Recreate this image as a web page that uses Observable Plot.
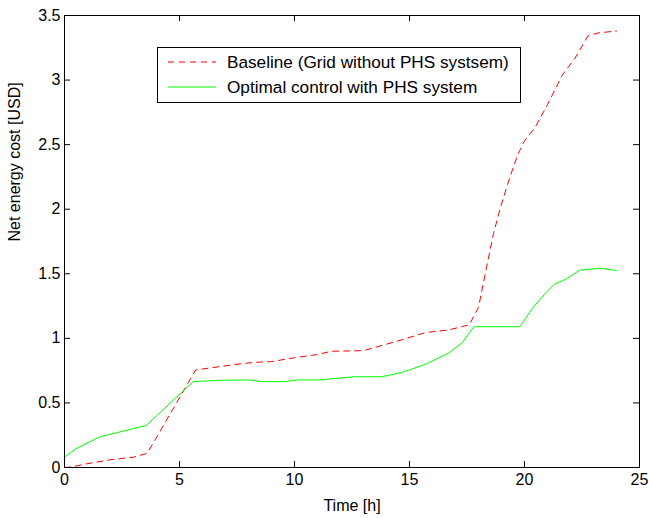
<!DOCTYPE html>
<html><head><meta charset="utf-8">
<script src="https://cdn.jsdelivr.net/npm/d3@7"></script>
<script src="https://cdn.jsdelivr.net/npm/@observablehq/plot@0.6"></script>
<style>body{margin:0;background:#fff;} #chart svg{display:block}</style>
</head><body><div id="chart"></div>
<script>
// Baseline (Grid without PHS system)
const baselineTime = [0, 0.33, 1, 2, 3, 3.6, 5.7, 6.5, 7.5, 8.3, 9, 10, 11, 11.6, 13, 13.5, 14.5, 15.7, 16.7, 17.6, 18.0, 18.35, 18.65, 18.95, 19.35, 19.7, 20.0, 20.45, 21.0, 21.65, 22.2, 22.75, 23.2, 24.0];
const baselineCost = [0, 0.005, 0.03, 0.06, 0.08, 0.11, 0.755, 0.775, 0.80, 0.815, 0.82, 0.85, 0.875, 0.90, 0.905, 0.93, 0.98, 1.045, 1.065, 1.105, 1.24, 1.55, 1.81, 2.01, 2.24, 2.42, 2.53, 2.63, 2.81, 3.04, 3.17, 3.34, 3.365, 3.38];
// Optimal control with PHS system
const optimalTime = [0, 0.5, 1.5, 2.5, 3.55, 4, 5.6, 6.7, 8.0, 8.6, 9.6, 10.1, 11.1, 12.6, 13.8, 14.7, 15.7, 16.7, 17.3, 17.8, 19.8, 20.35, 20.9, 21.3, 21.8, 22.4, 23.3, 24.0];
const optimalCost = [0.08, 0.145, 0.235, 0.28, 0.325, 0.40, 0.665, 0.675, 0.678, 0.665, 0.665, 0.678, 0.678, 0.703, 0.703, 0.737, 0.80, 0.886, 0.968, 1.09, 1.09, 1.234, 1.347, 1.42, 1.458, 1.528, 1.543, 1.525];

const xTicks = [0, 5, 10, 15, 20, 25];
const yTicks = [0, 0.5, 1, 1.5, 2, 2.5, 3, 3.5];
const xLabel = "Time [h]";
const yLabel = "Net energy cost [USD]";
const seriesNames = ["Baseline (Grid without PHS systsem)", "Optimal control with PHS system"];
const seriesColors = ["#ff0000", "#00ff00"];
const seriesDash = ["6,5", null];

const baseline = baselineTime.map((t, i) => ({t, v: baselineCost[i]}));
const optimal = optimalTime.map((t, i) => ({t, v: optimalCost[i]}));

const W = 649, H = 518, mL = 64, mR = 10, mT = 15, mB = 51;
const innerW = W - mL - mR, innerH = H - mT - mB;
const tk = 6;
const font = "'Liberation Sans', Arial, Helvetica, sans-serif";

const plot = Plot.plot({
  width: W, height: H,
  marginLeft: mL, marginRight: mR, marginTop: mT, marginBottom: mB,
  style: {fontFamily: font, fontSize: "16px", color: "#000", background: "#fff", overflow: "visible"},
  x: {domain: [0, 25]},
  y: {domain: [0, 3.5]},
  marks: [
    Plot.axisX(xTicks, {tickSize: 0, tickPadding: 6, label: null, fontSize: 16}),
    Plot.axisY(yTicks, {tickSize: 0, tickPadding: 4, label: null, fontSize: 16, tickFormat: d => String(d)}),
    Plot.tickX(xTicks, {x: d => d, insetTop: innerH - tk, stroke: "#000"}),
    Plot.tickX(xTicks, {x: d => d, insetBottom: innerH - tk, stroke: "#000"}),
    Plot.tickY(yTicks, {y: d => d, insetRight: innerW - tk, stroke: "#000"}),
    Plot.tickY(yTicks, {y: d => d, insetLeft: innerW - tk, stroke: "#000"}),
    Plot.line(baseline, {x: "t", y: "v", stroke: seriesColors[0], strokeWidth: 1, strokeDasharray: seriesDash[0]}),
    Plot.line(optimal, {x: "t", y: "v", stroke: seriesColors[1], strokeWidth: 1}),
    Plot.frame({stroke: "#000", strokeWidth: 1}),
    Plot.text([xLabel], {text: d => d, frameAnchor: "bottom", dy: 38, lineAnchor: "middle", fontSize: 16, fill: "#000"}),
    Plot.text([yLabel], {text: d => d, frameAnchor: "left", dx: -50, rotate: -90, lineAnchor: "middle", fontSize: 16, fill: "#000"})
  ]
});
document.getElementById("chart").appendChild(plot);

// Legend
const svg = d3.select(plot);
const lg = svg.append("g").attr("font-family", font).attr("font-size", 17.2).attr("text-anchor", "start");
lg.append("rect").attr("x", 157.5).attr("y", 47.5).attr("width", 363).attr("height", 55)
  .attr("fill", "#fff").attr("stroke", "#000");
seriesNames.forEach((name, i) => {
  const y = 62 + i * 25;
  lg.append("line").attr("x1", 168).attr("x2", 216).attr("y1", y).attr("y2", y)
    .attr("stroke", seriesColors[i]).attr("stroke-width", 1)
    .attr("stroke-dasharray", seriesDash[i]);
  lg.append("text").attr("x", 227).attr("y", y + 6).attr("fill", "#000").text(name);
});
</script>
</body></html>
